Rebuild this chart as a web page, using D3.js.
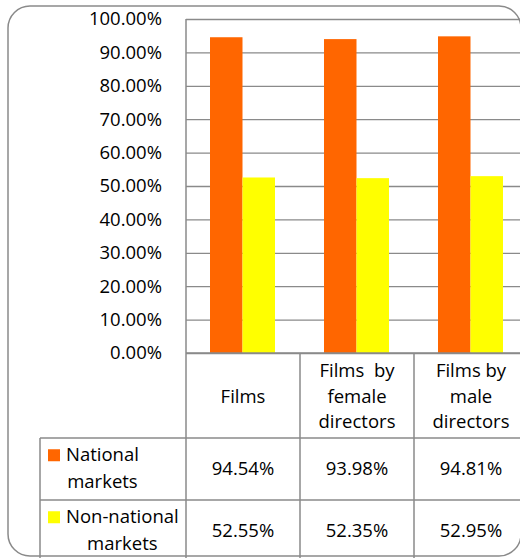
<!DOCTYPE html>
<html>
<head>
<meta charset="utf-8">
<script src="https://cdn.jsdelivr.net/npm/d3@7"></script>
<style>
  body { margin: 0; background: #fff; }
  text { font-family: 'Open Sans', sans-serif; font-size: 18.5px; fill: #000; white-space: pre; }
</style>
</head>
<body>
<div id="chart"></div>
<script>
// data
var categories = ['Films', 'Films  by female directors', 'Films by male directors']
var categoryLines = [['Films'], ['Films  by', 'female', 'directors'], ['Films by', 'male', 'directors']]
var seriesNames = ['National markets', 'Non-national markets']
var seriesLines = [['National', 'markets'], ['Non-national', 'markets']]
var national = [0.9454, 0.9398, 0.9481]
var nonNational = [0.5255, 0.5235, 0.5295]
var yTicks = [0, 0.1, 0.2, 0.3, 0.4, 0.5, 0.6, 0.7, 0.8, 0.9, 1.0]

;(function () {
  var width = 520
  var height = 558
  var plot = { left: 186, top: 19, right: 528, bottom: 353 }
  var rows = [353, 438, 500, 562]
  var tableLeft = 40
  var grey = '#8a8a8a'

  var svg = d3.select('#chart')
    .append('svg')
    .attr('width', width)
    .attr('height', height)

  var xScale = d3.scaleBand()
    .domain(categories)
    .range([plot.left, plot.right])

  var innerScale = d3.scaleBand()
    .domain(seriesNames)
    .range([24, xScale.bandwidth() - 25])

  var yScale = d3.scaleLinear()
    .domain([0, 1])
    .range([plot.bottom, plot.top])

  var colorScale = d3.scaleOrdinal()
    .domain(seriesNames)
    .range(['#ff6600', '#ffff00'])

  // gridlines + y labels
  var yAxis = d3.axisLeft(yScale)
    .tickValues(yTicks)
    .tickSize(-(plot.right - plot.left))
    .tickPadding(24)
    .tickFormat(d3.format('.2%'))

  svg.append('g')
    .attr('class', 'axis y-axis')
    .attr('transform', 'translate(' + plot.left + ',0)')
    .call(yAxis)
    .call(g => g.select('.domain').remove())
    .call(g => g.selectAll('line').attr('stroke', grey).attr('stroke-width', 1.3))
    .call(g => g.selectAll('text')
      .attr('font-family', "'Open Sans', sans-serif")
      .attr('font-size', 18.5)
      .attr('fill', '#000'))

  // bars
  var datapoints = categories.map((c, i) => ({ cat: c, values: [national[i], nonNational[i]] }))

  svg.append('g')
    .selectAll('g')
    .data(datapoints)
    .enter().append('g')
    .attr('transform', d => 'translate(' + xScale(d.cat) + ',0)')
    .selectAll('rect')
    .data(d => d.values.map((v, j) => ({ name: seriesNames[j], value: v })))
    .enter().append('rect')
    .attr('x', d => innerScale(d.name))
    .attr('width', innerScale.bandwidth())
    .attr('y', d => yScale(d.value))
    .attr('height', d => yScale(0) - yScale(d.value))
    .attr('fill', d => colorScale(d.name))

  // table lines
  var lines = svg.append('g').attr('stroke', grey).attr('stroke-width', 1.5)
  lines.append('line')
    .attr('x1', plot.left).attr('x2', plot.left)
    .attr('y1', plot.top).attr('y2', height)
  lines.append('line')
    .attr('x1', plot.left).attr('x2', width)
    .attr('y1', plot.bottom).attr('y2', plot.bottom)
  categories.slice(1).forEach(c => {
    lines.append('line')
      .attr('x1', xScale(c)).attr('x2', xScale(c))
      .attr('y1', plot.bottom).attr('y2', height)
  })
  lines.append('line')
    .attr('x1', tableLeft).attr('x2', tableLeft)
    .attr('y1', rows[1]).attr('y2', height)
  rows.slice(1, 3).forEach(y => {
    lines.append('line')
      .attr('x1', tableLeft).attr('x2', width)
      .attr('y1', y).attr('y2', y)
  })

  // header labels
  var lineGap = 25.5
  categories.forEach((c, i) => {
    var cx = xScale(c) + xScale.bandwidth() / 2
    var mid = (rows[0] + rows[1]) / 2 + 7
    var ls = categoryLines[i]
    ls.forEach((t, k) => {
      svg.append('text')
        .attr('x', cx)
        .attr('y', mid + (k - (ls.length - 1) / 2) * lineGap)
        .attr('text-anchor', 'middle')
        .text(t)
    })
  })

  // value rows with legend keys
  var seriesValues = [national, nonNational]
  seriesNames.forEach((name, j) => {
    var mid = (rows[j + 1] + rows[j + 2]) / 2 + 6
    categories.forEach((c, i) => {
      svg.append('text')
        .attr('x', xScale(c) + xScale.bandwidth() / 2)
        .attr('y', mid)
        .attr('text-anchor', 'middle')
        .text(d3.format('.2%')(seriesValues[j][i]))
    })

    var ls = seriesLines[j]
    var firstBase = mid - lineGap / 2 - 1
    svg.append('rect')
      .attr('x', 48)
      .attr('y', firstBase - 12)
      .attr('width', 12)
      .attr('height', 12)
      .attr('fill', colorScale(name))

    var labels = ls.map((t, k) => svg.append('text')
      .attr('y', firstBase + k * (lineGap + 1))
      .attr('text-anchor', 'middle')
      .text(t))
    var maxW = d3.max(labels, l => l.node().getComputedTextLength())
    labels.forEach(l => l.attr('x', 66 + maxW / 2))
  })

  // outer rounded frame
  svg.append('rect')
    .attr('x', 8)
    .attr('y', 6)
    .attr('width', 513)
    .attr('height', 550)
    .attr('rx', 22)
    .attr('fill', 'none')
    .attr('stroke', grey)
    .attr('stroke-width', 1.5)
})()
</script>
</body>
</html>
